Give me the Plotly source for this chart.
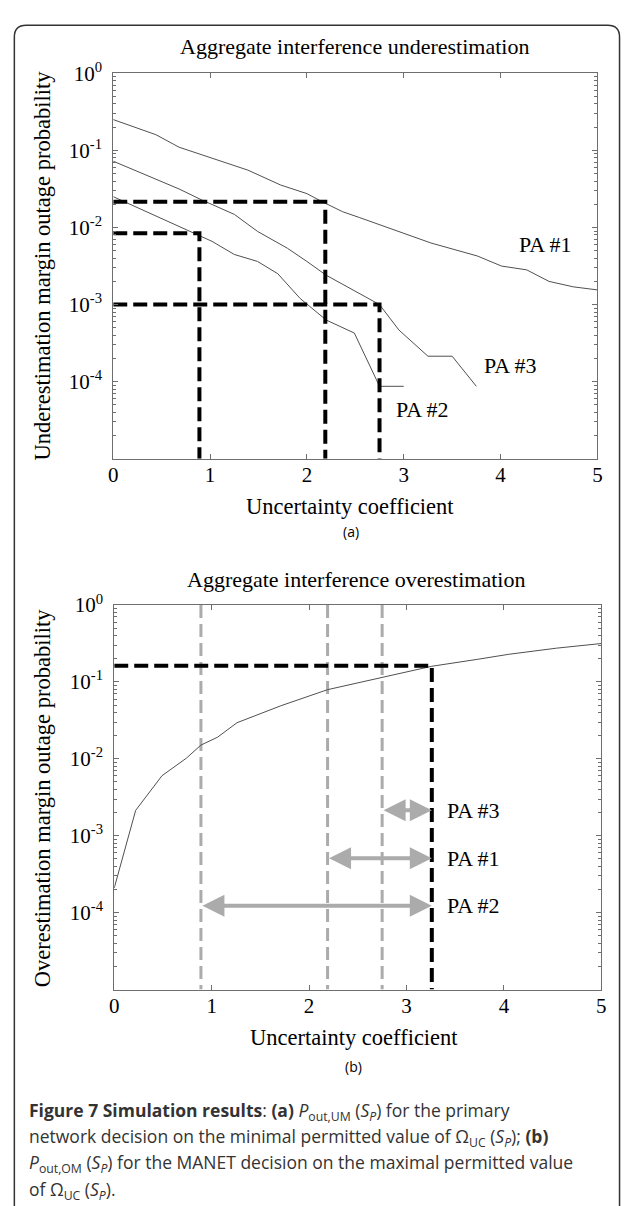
import numpy as np
import plotly.graph_objects as go

# ---------------- data ----------------
# Panel (a): underestimation margin outage probability
pa1_x = [0, 0.44, 0.68, 1.02, 1.39, 1.73, 2.0, 2.16, 2.37, 2.54, 2.74, 3.28, 3.76, 4.01, 4.27, 4.5, 4.75, 5.0]
pa1_y = [0.251, 0.160, 0.110, 0.0794, 0.0555, 0.0355, 0.0275, 0.0215, 0.0160, 0.0135, 0.0110,
         0.0063, 0.00427, 0.00316, 0.00282, 0.0020, 0.0017, 0.00155]
pa3_x = [0, 0.34, 0.68, 0.91, 1.25, 1.49, 1.8, 2.0, 2.2, 2.75, 2.95, 3.25, 3.5, 3.75]
pa3_y = [0.0724, 0.0479, 0.0316, 0.0229, 0.0148, 0.0089, 0.00537, 0.00363, 0.0024, 0.001,
         0.000468, 0.000214, 0.000214, 0.0000871]
pa2_x = [0, 0.34, 0.78, 1.02, 1.25, 1.49, 1.7, 1.93, 2.2, 2.49, 2.75, 3.0]
pa2_y = [0.0251, 0.0162, 0.00912, 0.00661, 0.00447, 0.00363, 0.00251, 0.0012, 0.00063,
         0.000427, 0.0000871, 0.0000871]

# decision points (a): minimal permitted uncertainty coefficient per PA
um_names = ["PA #2", "PA #1", "PA #3"]
um_x = [0.89, 2.19, 2.75]
um_y = [0.0084, 0.0215, 0.001]

# Panel (b): overestimation margin outage probability
om_x = [0, 0.22, 0.49, 0.74, 0.89, 1.06, 1.26, 1.71, 2.19, 2.74, 3.26, 3.73, 4.05, 4.54, 5.0]
om_y = [2.09e-4, 2.14e-3, 6.03e-3, 0.0102, 0.0151, 0.0191, 0.0295, 0.049, 0.0794, 0.115,
        0.160, 0.197, 0.229, 0.275, 0.316]
om_dec_x = 3.26
om_dec_y = 0.163

# arrows (b): from each PA's minimal value to MANET maximal value
arrow_names = ["PA #3", "PA #1", "PA #2"]
arrow_from = [2.75, 2.19, 0.89]
arrow_y = [2.15e-3, 5.1e-4, 1.23e-4]

# labels (a)
lab_a_names = ["PA #1", "PA #3", "PA #2"]
lab_a_x = [4.46, 4.1, 3.19]
lab_a_y = [6.0e-3, 1.62e-4, 4.4e-5]
lab_b_x = 3.68

x_ticks = [0, 1, 2, 3, 4, 5]
y_tickvals = [1, 0.1, 0.01, 0.001, 0.0001]
y_ticktext = ["10<sup>0</sup>", "10<sup>-1</sup>", "10<sup>-2</sup>", "10<sup>-3</sup>", "10<sup>-4</sup>"]
y_min = 1e-5
minor_vals = [m * 10.0 ** k for k in range(-5, 0) for m in range(2, 10)]

# ---------------- layout helpers ----------------
W, H = 627, 1206
def PX(v):
    return v / W
def PY(v):
    return 1 - v / H

SERIF = "Liberation Serif, Times New Roman, serif"
CURVE = "#505050"
GRAY = "#ababab"

fig = go.Figure()

# panel (a) curves
for xs, ys in [(pa1_x, pa1_y), (pa3_x, pa3_y), (pa2_x, pa2_y)]:
    fig.add_trace(go.Scatter(x=xs, y=ys, mode="lines", line=dict(color=CURVE, width=1),
                             xaxis="x", yaxis="y", showlegend=False, hoverinfo="skip"))
# panel (a) dashed decision boxes
for xc, yc in zip(um_x, um_y):
    fig.add_trace(go.Scatter(x=[0, xc, xc], y=[yc, yc, y_min], mode="lines",
                             line=dict(color="black", width=4, dash="14px,6px"),
                             xaxis="x", yaxis="y", showlegend=False, hoverinfo="skip"))

# panel (b) gray vertical dashed lines
for xc in um_x:
    fig.add_trace(go.Scatter(x=[xc, xc], y=[1, y_min], mode="lines",
                             line=dict(color=GRAY, width=3, dash="13px,6px"),
                             xaxis="x2", yaxis="y2", showlegend=False, hoverinfo="skip"))
# panel (b) curve
fig.add_trace(go.Scatter(x=om_x, y=om_y, mode="lines", line=dict(color=CURVE, width=1),
                         xaxis="x2", yaxis="y2", showlegend=False, hoverinfo="skip"))
# panel (b) black decision
fig.add_trace(go.Scatter(x=[0, om_dec_x, om_dec_x], y=[om_dec_y, om_dec_y, y_min], mode="lines",
                         line=dict(color="black", width=4, dash="14px,6px"),
                         xaxis="x2", yaxis="y2", showlegend=False, hoverinfo="skip"))

axis_common = dict(showline=True, linecolor="#6e6e6e", linewidth=1, mirror="allticks",
                   ticks="inside", tickcolor="#6e6e6e", showgrid=False, zeroline=False,
                   tickfont=dict(family=SERIF, size=21, color="black"))
xcommon = dict(axis_common, range=[0, 5], tickmode="array", tickvals=x_ticks, ticklen=5,
               ticklabelstandoff=-3)
ycommon = dict(axis_common, type="log", range=[-5, 0], tickmode="array", tickvals=y_tickvals,
               ticktext=y_ticktext, ticklen=5, ticklabelstandoff=6,
               minor=dict(tickmode="array", tickvals=minor_vals, ticks="inside", ticklen=3,
                          tickcolor="#6e6e6e", showgrid=False))

fig.update_layout(
    width=W, height=H, margin=dict(l=0, r=0, t=0, b=0),
    paper_bgcolor="white", plot_bgcolor="white",
    font=dict(family=SERIF, color="black"),
    xaxis=dict(xcommon, domain=[PX(110), PX(602)], anchor="y"),
    yaxis=dict(ycommon, domain=[PY(450), PY(60)], anchor="x"),
    xaxis2=dict(xcommon, domain=[PX(111), PX(606)], anchor="y2"),
    yaxis2=dict(ycommon, domain=[PY(987), PY(598)], anchor="x2"),
)

ann = []
def txt(x, y, s, size=21, family=SERIF, angle=0, xanchor="center", color="black"):
    ann.append(dict(x=PX(x), y=PY(y), xref="paper", yref="paper", text=s, showarrow=False,
                    xanchor=xanchor, yanchor="middle", textangle=angle,
                    font=dict(family=family, size=size, color=color)))

txt(355, 33, "Aggregate interference underestimation", size=22)
txt(357, 572, "Aggregate interference overestimation", size=22)
txt(38, 254, "Underestimation margin outage probability", size=22.5, angle=-90)
txt(38, 793, "Overestimation margin outage probability", size=22.5, angle=-90)
txt(351, 498, "Uncertainty coefficient", size=22.5)
txt(355, 1036, "Uncertainty coefficient", size=22.5)
txt(352, 524, "(a)", size=14, family="Open Sans, sans-serif")
txt(354, 1065, "(b)", size=14, family="Open Sans, sans-serif")

# PA labels panel (a)
for n, lx, ly in zip(lab_a_names, lab_a_x, lab_a_y):
    ann.append(dict(x=lx, y=np.log10(ly), xref="x", yref="y", text=n, showarrow=False,
                    font=dict(family=SERIF, size=22, color="black")))

# arrows and labels panel (b)
for n, x0, ay in zip(arrow_names, arrow_from, arrow_y):
    ann.append(dict(x=om_dec_x, y=np.log10(ay), ax=x0, ay=np.log10(ay), xref="x2", yref="y2",
                    axref="x2", ayref="y2", text="", showarrow=True,
                    arrowhead=2, startarrowhead=2, arrowside="end+start",
                    arrowsize=1.1, startarrowsize=1.1, arrowwidth=4, arrowcolor=GRAY,
                    standoff=0, startstandoff=0))
    ann.append(dict(x=lab_b_x, y=np.log10(ay), xref="x2", yref="y2", text=n, showarrow=False,
                    font=dict(family=SERIF, size=22, color="black")))

# caption
CAP = "Open Sans, sans-serif"
cap_lines = [
    "<b>Figure 7 Simulation results</b>: <b>(a)</b> <i>P</i><sub>out,UM</sub> (<i>S<sub>P</sub></i>) for the primary",
    "network decision on the minimal permitted value of Ω<sub>UC</sub> (<i>S<sub>P</sub></i>); <b>(b)</b>",
    "<i>P</i><sub>out,OM</sub> (<i>S<sub>P</sub></i>) for the MANET decision on the maximal permitted value",
    "of Ω<sub>UC</sub> (<i>S<sub>P</sub></i>).",
]
cap_y = [1110, 1137, 1163, 1190]
for s, y in zip(cap_lines, cap_y):
    txt(22, y, s, size=17.5, family=CAP, xanchor="left", color="#333333")

fig.update_layout(annotations=ann)

# frame around the figure
x0, x1, yt, yb, r = 9.5, 624.5, 11.5, 1206, 12
path = (f"M {PX(x0)},{PY(yb)} L {PX(x0)},{PY(yt + r)} Q {PX(x0)},{PY(yt)} {PX(x0 + r)},{PY(yt)} "
        f"L {PX(x1 - r)},{PY(yt)} Q {PX(x1)},{PY(yt)} {PX(x1)},{PY(yt + r)} L {PX(x1)},{PY(yb)}")
fig.add_shape(type="path", path=path, xref="paper", yref="paper",
              line=dict(color="#333333", width=1.5))

fig.write_html("out.html")
